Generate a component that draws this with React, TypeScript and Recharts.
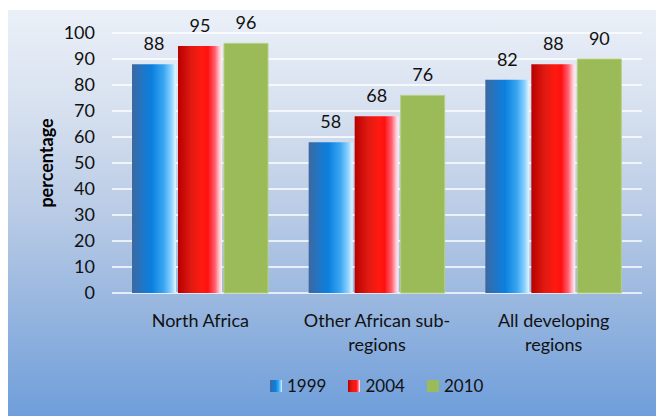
import { BarChart, Bar, XAxis, YAxis, CartesianGrid, LabelList } from "recharts";

const regions = ["North Africa", "Other African sub-regions", "All developing regions"];
const regionLines: Record<string, string[]> = {
  "North Africa": ["North Africa"],
  "Other African sub-regions": ["Other African sub-", "regions"],
  "All developing regions": ["All developing", "regions"],
};
const years = ["1999", "2004", "2010"];
const values1999 = [88, 58, 82];
const values2004 = [95, 68, 88];
const values2010 = [96, 76, 90];
const yTicks = [0, 10, 20, 30, 40, 50, 60, 70, 80, 90, 100];

const data = regions.map((region, i) => ({
  region,
  y1999: values1999[i],
  y2004: values2004[i],
  y2010: values2010[i],
}));

const FONT = "Lato, 'Open Sans', sans-serif";

const blueCss =
  "linear-gradient(to right, #3d68a0 0%, #1f76c8 25%, #0a80de 45%, #3aa6f2 72%, #8fd3ff 90%, #e6f6ff 100%)";
const redCss =
  "linear-gradient(to right, #b80000 0%, #e01a12 30%, #ff1a10 55%, #ff1010 68%, #ff6070 84%, #ffc8d0 94%, #fff0f2 100%)";
const green = "#9bbb59";

const legendItems = [
  { label: years[0], fill: blueCss },
  { label: years[1], fill: redCss },
  { label: years[2], fill: green },
];

function RegionTick(props: any) {
  const { x, y, payload } = props;
  const lines = regionLines[payload.value] || [payload.value];
  return (
    <text x={x} y={y} textAnchor="middle" fill="#111" fontSize={18} fontFamily={FONT}>
      {lines.map((line, i) => (
        <tspan key={i} x={x} dy={i === 0 ? 34 : 24}>
          {line}
        </tspan>
      ))}
    </text>
  );
}

export default function App() {
  return (
    <div
      style={{
        position: "absolute",
        left: 8,
        top: 10,
        width: 648,
        height: 406,
        background:
          "linear-gradient(to bottom, #ebf0f8 0%, #d6e0ef 25%, #b9cbe6 50%, #99b7df 72%, #6f9edb 100%)",
        fontFamily: FONT,
      }}
    >
      <BarChart
        width={648}
        height={406}
        data={data}
        margin={{ top: 23, right: 14, left: 0, bottom: 0 }}
        barGap={2}
        barCategoryGap={20}
      >
        <defs>
          <linearGradient id="blueGrad" x1="0" y1="0" x2="1" y2="0">
            <stop offset="0%" stopColor="#3d68a0" />
            <stop offset="25%" stopColor="#1f76c8" />
            <stop offset="45%" stopColor="#0a80de" />
            <stop offset="72%" stopColor="#3aa6f2" />
            <stop offset="90%" stopColor="#8fd3ff" />
            <stop offset="100%" stopColor="#e6f6ff" />
          </linearGradient>
          <linearGradient id="redGrad" x1="0" y1="0" x2="1" y2="0">
            <stop offset="0%" stopColor="#b80000" />
            <stop offset="30%" stopColor="#e01a12" />
            <stop offset="55%" stopColor="#ff1a10" />
            <stop offset="68%" stopColor="#ff1010" />
            <stop offset="84%" stopColor="#ff6070" />
            <stop offset="94%" stopColor="#ffc8d0" />
            <stop offset="100%" stopColor="#fff0f2" />
          </linearGradient>
        </defs>
        <CartesianGrid vertical={false} stroke="#ffffff" strokeWidth={1.5} />
        <XAxis
          dataKey="region"
          height={123}
          axisLine={false}
          tickLine={false}
          tickSize={0}
          tickMargin={0}
          interval={0}
          tick={<RegionTick />}
        />
        <YAxis
          width={104}
          domain={[0, 100]}
          ticks={yTicks}
          interval={0}
          axisLine={false}
          tickLine={false}
          tickMargin={11}
          tick={{ fill: "#111", fontSize: 18, fontFamily: FONT }}
          label={{
            value: "percentage",
            angle: -90,
            position: "center",
            dx: -13,
            fill: "#000",
            fontSize: 18,
            fontWeight: 700,
            fontFamily: FONT,
          }}
        />
        <Bar dataKey="y1999" fill="url(#blueGrad)" isAnimationActive={false}>
          <LabelList dataKey="y1999" position="top" offset={14} fill="#111" fontSize={18} fontFamily={FONT} />
        </Bar>
        <Bar dataKey="y2004" fill="url(#redGrad)" isAnimationActive={false}>
          <LabelList dataKey="y2004" position="top" offset={14} fill="#111" fontSize={18} fontFamily={FONT} />
        </Bar>
        <Bar dataKey="y2010" fill={green} stroke="#b5cf80" strokeWidth={1} isAnimationActive={false}>
          <LabelList dataKey="y2010" position="top" offset={14} fill="#111" fontSize={18} fontFamily={FONT} />
        </Bar>
      </BarChart>
      <div
        style={{
          position: "absolute",
          left: 262,
          top: 364,
          display: "flex",
          alignItems: "center",
          gap: 22,
          fontSize: 17,
          color: "#111",
          lineHeight: "24px",
        }}
      >
        {legendItems.map((item) => (
          <div key={item.label} style={{ display: "flex", alignItems: "center", gap: 5 }}>
            <span style={{ display: "inline-block", width: 12, height: 12, background: item.fill }} />
            <span>{item.label}</span>
          </div>
        ))}
      </div>
    </div>
  );
}
